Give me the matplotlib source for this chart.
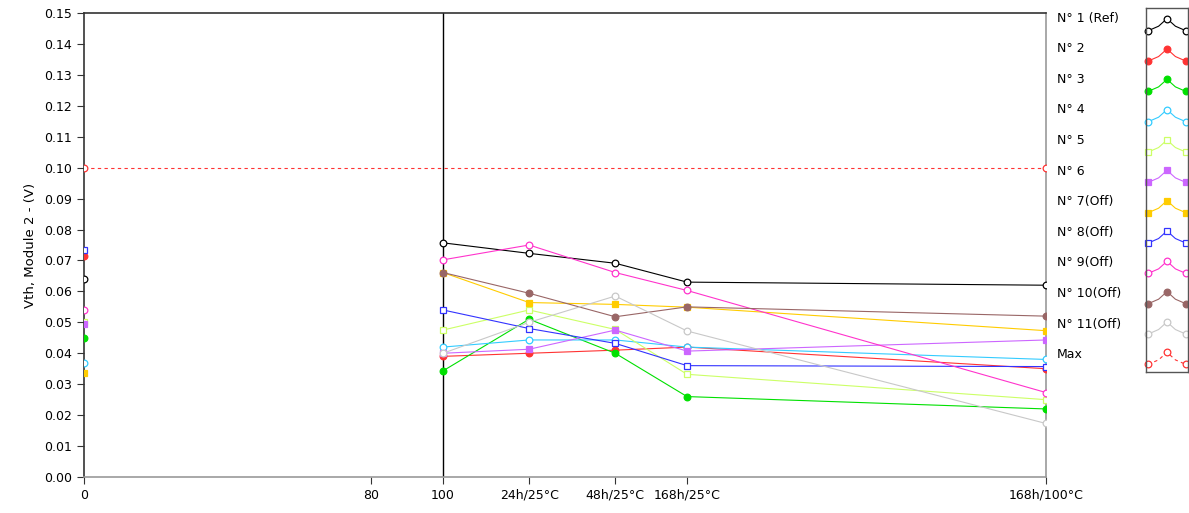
import numpy as np
import matplotlib
matplotlib.use("Agg")
import matplotlib.pyplot as plt

# ---- data ----
x_points = [100, 124, 148, 168, 268]
x_ticks = [0, 80, 100, 124, 148, 168, 268]
x_ticklabels = ["0", "80", "100", "24h/25°C", "48h/25°C", "168h/25°C", "168h/100°C"]
y_ticks = [i / 100 for i in range(16)]

names = ["N° 1 (Ref)", "N° 2", "N° 3", "N° 4", "N° 5", "N° 6", "N° 7(Off)",
         "N° 8(Off)", "N° 9(Off)", "N° 10(Off)", "N° 11(Off)"]
initial = [0.064, 0.0715, 0.045, 0.037, 0.050, 0.0495, 0.0336, 0.0734, 0.054, np.nan, np.nan]
s1 = [0.0757, 0.0723, 0.0691, 0.0630, 0.0620]
s2 = [0.0390, 0.0400, 0.0410, 0.0420, 0.0350]
s3 = [0.0343, 0.0510, 0.0400, 0.0260, 0.0220]
s4 = [0.0420, 0.0443, 0.0443, 0.0420, 0.0380]
s5 = [0.0475, 0.0540, 0.0477, 0.0332, 0.0250]
s6 = [0.0400, 0.0413, 0.0475, 0.0407, 0.0443]
s7 = [0.0661, 0.0564, 0.0558, 0.0549, 0.0473]
s8 = [0.0540, 0.0480, 0.0432, 0.0360, 0.0357]
s9 = [0.0702, 0.0750, 0.0661, 0.0603, 0.0273]
s10 = [0.0661, 0.0594, 0.0518, 0.0550, 0.0520]
s11 = [0.0400, 0.0500, 0.0585, 0.0472, 0.0173]
series = [s1, s2, s3, s4, s5, s6, s7, s8, s9, s10, s11]
max_x = [0, 268]
max_y = [0.10, 0.10]

colors = ["#000000", "#FF3333", "#00E000", "#33CCFF", "#CCFF66", "#CC66FF",
          "#FFCC00", "#3333FF", "#FF33CC", "#996666", "#C8C8C8"]
markers = ["o", "o", "o", "o", "s", "s", "s", "s", "o", "o", "o"]
filled = [False, True, True, False, False, True, True, False, False, True, False]

W, H = 1189, 513
fig = plt.figure(figsize=(W / 100, H / 100), dpi=100)
ax = fig.add_axes([84 / W, 1 - 477 / H, (1046 - 84) / W, (477 - 13) / H])

lw = 0.8
ms = 4.8
for i in range(len(series)):
    c = colors[i]
    mfc = c if filled[i] else "white"
    ax.plot(x_points, series[i], color=c, lw=lw, marker=markers[i], ms=ms,
            mfc=mfc, mec=c, mew=0.9, zorder=3)
    if not np.isnan(initial[i]):
        ax.plot([0], [initial[i]], color=c, marker=markers[i], ms=ms,
                mfc=mfc, mec=c, mew=0.9, ls="none", zorder=4)
ax.plot(max_x, max_y, color="#FF3333", lw=lw, ls=(0, (3, 3)), marker="o", ms=ms,
        mfc="white", mec="#FF3333", mew=0.9, zorder=3)

ax.axvline(100, color="black", lw=1.0, zorder=2)

ax.set_xlim(0, 268)
ax.set_ylim(0, 0.15)
ax.set_xticks(x_ticks)
ax.set_xticklabels(x_ticklabels, fontsize=9)
ax.set_yticks(y_ticks)
ax.set_yticklabels([f"{v:.2f}" for v in y_ticks], fontsize=9)
ax.tick_params(axis="both", direction="out", length=5, width=0.8, colors="#333333",
               labelcolor="black")
ax.set_ylabel("Vth, Module 2 - (V)", fontsize=9.5)
ax.yaxis.set_label_coords(-0.049, 0.5)
for side in ["left", "top"]:
    ax.spines[side].set_color("#333333")
    ax.spines[side].set_linewidth(1.2)
for side in ["right", "bottom"]:
    ax.spines[side].set_color("#999999")
    ax.spines[side].set_linewidth(1.2)

# ---- legend ----
all_names = names + ["Max"]
all_colors = colors + ["#FF3333"]
all_markers = markers + ["o"]
all_filled = filled + [False]
lax = fig.add_axes([1146 / W, 1 - 372 / H, (1188 - 1146) / W, (372 - 8) / H])
lax.set_xlim(0, 1)
lax.set_ylim(len(all_names), 0)
lax.set_xticks([])
lax.set_yticks([])
for sp in lax.spines.values():
    sp.set_color("#555555")
    sp.set_linewidth(1.0)
for i, nm in enumerate(all_names):
    yc = 8 + (i + 0.33) * 30.6
    fig.text(1057 / W, 1 - yc / H, nm, fontsize=9, va="center", ha="left")
    c = all_colors[i]
    mfc = c if all_filled[i] else "white"
    xs = [0.05, 0.3, 0.5, 0.7, 0.95]
    ys = [i + 0.75, i + 0.6, i + 0.35, i + 0.6, i + 0.75]
    if i < len(names):
        lax.plot(xs, ys, color=c, lw=lw, clip_on=False)
    else:
        lax.plot(xs, ys, color=c, lw=lw, ls=(0, (3, 3)), clip_on=False)
    lax.plot([xs[0], xs[2], xs[4]], [ys[0], ys[2], ys[4]], ls="none",
             marker=all_markers[i], ms=ms, mfc=mfc, mec=c, mew=0.9, clip_on=False)

fig.savefig("out.png", dpi=100)
